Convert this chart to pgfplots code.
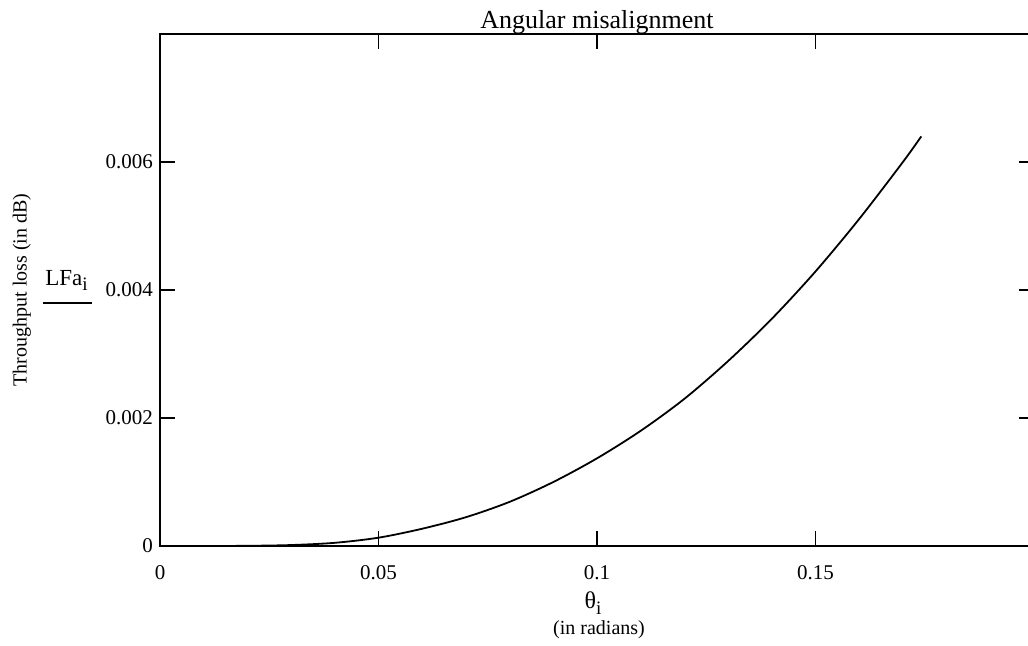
\documentclass[border=0pt]{standalone}
\usepackage{fontspec}
\setmainfont{Liberation Serif}
\usepackage{pgfplots}
\pgfplotsset{compat=1.18}

\begin{document}
\begin{tikzpicture}
\begin{axis}[
    at={(80pt,49.5pt)}, anchor=south west,
    scale only axis,
    width=437pt, height=256pt,
    xmin=0, xmax=0.2,
    ymin=0, ymax=0.008,
    xtick={0,0.05,0.1,0.15},
    xticklabels={0,0.05,0.1,0.15},
    ytick={0,0.002,0.004,0.006},
    yticklabels={0,0.002,0.004,0.006},
    scaled ticks=false,
    tick align=inside,
    major tick length=7.5pt,
    tick style={line width=0.7pt, black},
    axis line style={line width=0.9pt},
    tick label style={font=\fontsize{10.5}{12}\selectfont},
    xticklabel style={yshift=-6pt},
    title={Angular misalignment},
    title style={at={(0.5,1)}, anchor=base, yshift=-3pt,
                 font=\fontsize{13}{15}\selectfont},
    ylabel={Throughput loss (in dB)},
    ylabel style={at={(axis description cs:-0.158,0.5)}, anchor=center,
                  font=\fontsize{10}{12}\selectfont},
]
\addplot[black, line width=0.9pt, smooth] coordinates {
  (0,0) (0.01,0.0000003) (0.02,0.000003) (0.03,0.000015) (0.04,0.00005)
  (0.05,0.00013) (0.06,0.00027) (0.07,0.00045) (0.08,0.00069)
  (0.09,0.00100) (0.10,0.00137) (0.11,0.00180) (0.12,0.00230)
  (0.13,0.00289) (0.14,0.00355) (0.15,0.00429) (0.16,0.00511)
  (0.17,0.00600) (0.1742,0.00640)
};
\end{axis}
% expression label beside the y axis
\node[anchor=base west, inner sep=0, font=\fontsize{11.5}{13}\selectfont]
  at (22.5pt,180pt) {LFa\raisebox{-2.5pt}{\fontsize{9.5}{10}\selectfont i}};
\draw[line width=0.6pt] (21.5pt,171pt) -- (46pt,171pt);
% x label in two lines
\node[font=\fontsize{12}{14}\selectfont] at (296.5pt,21pt)
  {θ\raisebox{-3pt}{\fontsize{9.5}{10}\selectfont i}};
\node[font=\fontsize{10}{12}\selectfont] at (299.5pt,7.5pt) {(in radians)};
\pgfresetboundingbox
\useasboundingbox (0,0) rectangle (514pt,322.5pt);
\end{tikzpicture}
\end{document}
